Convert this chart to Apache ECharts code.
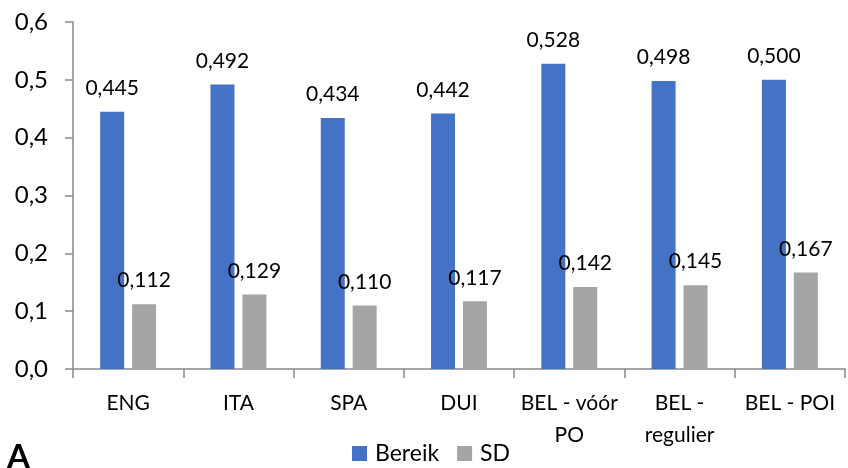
<!DOCTYPE html>
<html>
<head>
<meta charset="utf-8">
<script src="https://cdn.jsdelivr.net/npm/echarts@6/dist/echarts.min.js"></script>
<style>
  html, body { margin: 0; padding: 0; background: #fff; }
  #chart { width: 848px; height: 468px; }
</style>
</head>
<body>
<div id="chart"></div>
<script>
const categories = ['ENG', 'ITA', 'SPA', 'DUI', 'BEL - vóór PO', 'BEL - regulier', 'BEL - POI'];
const bereik = [0.445, 0.492, 0.434, 0.442, 0.528, 0.498, 0.500];
const sd = [0.112, 0.129, 0.110, 0.117, 0.142, 0.145, 0.167];
const seriesNames = ['Bereik', 'SD'];
const yTicks = { min: 0, max: 0.6, interval: 0.1 };

const FONT = 'Lato, "Open Sans", sans-serif';
const AXIS_COLOR = '#898989';
const fmt = (v, d) => v.toFixed(d).replace('.', ',');

// Wrap long category names at the last space that keeps a line within 10 characters.
function wrapName(name) {
  if (name.length <= 10) return name;
  const cut = name.lastIndexOf(' ', 10);
  return cut > 0 ? name.slice(0, cut) + '\n' + name.slice(cut + 1) : name;
}

const chart = echarts.init(document.getElementById('chart'), null, { renderer: 'canvas' });

const barLabel = {
  show: true,
  position: 'top',
  distance: 13,
  fontFamily: FONT,
  fontSize: 21,
  color: '#000',
  formatter: p => fmt(p.value, 3)
};

chart.setOption({
  animation: false,
  textStyle: { fontFamily: FONT },
  grid: { left: 73, right: 3, top: 22, bottom: 99 },
  graphic: [{
    type: 'text',
    left: 7,
    top: 441,
    style: { text: 'A', font: 'bold 33px ' + FONT, fill: '#000' }
  }],
  legend: {
    data: seriesNames,
    top: 442,
    left: 352,
    padding: 0,
    itemWidth: 15,
    itemHeight: 15,
    itemGap: 18,
    icon: 'rect',
    textStyle: { fontFamily: FONT, fontSize: 23, color: '#000', padding: [0, 0, 0, 3] }
  },
  xAxis: {
    type: 'category',
    data: categories,
    axisLine: { lineStyle: { color: AXIS_COLOR, width: 1.5 } },
    axisTick: { show: true, length: 9, lineStyle: { color: AXIS_COLOR, width: 1.5 } },
    axisLabel: {
      interval: 0,
      margin: 18,
      fontFamily: FONT,
      fontSize: 21,
      color: '#000',
      lineHeight: 32,
      formatter: wrapName
    }
  },
  yAxis: {
    type: 'value',
    min: yTicks.min,
    max: yTicks.max,
    interval: yTicks.interval,
    splitLine: { show: false },
    axisLine: { show: true, lineStyle: { color: AXIS_COLOR, width: 1.5 } },
    axisTick: { show: true, length: 8, lineStyle: { color: AXIS_COLOR, width: 1.5 } },
    axisLabel: {
      margin: 25,
      fontFamily: FONT,
      fontSize: 24,
      color: '#000',
      formatter: v => fmt(v, 1)
    }
  },
  series: [
    {
      name: seriesNames[0],
      type: 'bar',
      data: bereik,
      barWidth: 24,
      barGap: '33%',
      itemStyle: { color: '#4472C4' },
      label: barLabel
    },
    {
      name: seriesNames[1],
      type: 'bar',
      data: sd,
      barWidth: 24,
      itemStyle: { color: '#A5A5A5' },
      label: barLabel
    }
  ]
});
</script>
</body>
</html>
